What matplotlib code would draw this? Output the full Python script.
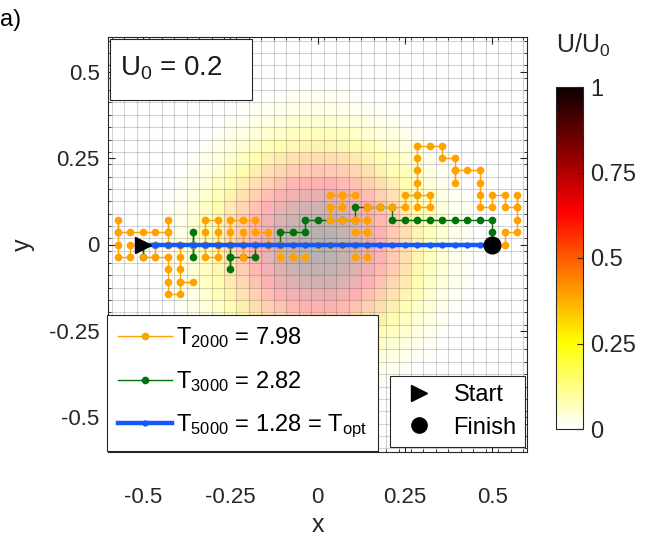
import numpy as np
import matplotlib
matplotlib.use('Agg')
import matplotlib.pyplot as plt
from matplotlib.lines import Line2D
from matplotlib.patches import Rectangle
from matplotlib.cm import ScalarMappable
from matplotlib.colors import Normalize

plt.rcParams['font.family'] = ['Liberation Sans', 'DejaVu Sans']
plt.rcParams['mathtext.fontset'] = 'custom'
plt.rcParams['mathtext.rm'] = 'Liberation Sans'
plt.rcParams['mathtext.it'] = 'Liberation Sans:italic'
plt.rcParams['axes.unicode_minus'] = False

# lattice: x = x_start + i*h, y = j*h
h = 1 / 28
x_start = -0.5
U0 = 0.2
bump_sigma = 0.2       # width of the potential bump (gaussian, peak at origin)
bump_cut = 0.46        # radius where the bump is brought down to zero
heat_alpha = 0.3

start_xy = (-0.5, 0.0)
finish_xy = (0.5, 0.0)

# sampled paths as lattice indices (i, j)
path_2000 = [(0, 0), (-1, 0), (-1, -1), (-2, -1), (-2, 0), (-2, 1), (-2, 2), (-2, 1), (-1, 1),
             (0, 1), (1, 1), (2, 1), (2, 2), (2, 1), (2, 0), (1, 0), (1, -1), (0, -1), (1, -1),
             (2, -1), (2, -2), (2, -3), (2, -4), (3, -4), (3, -3), (4, -3), (3, -3), (3, -2),
             (3, -1), (3, 0), (4, 0), (5, 0), (5, -1), (6, -1), (6, 0), (6, 1), (6, 2), (5, 2),
             (5, 1), (5, 0), (6, 0), (7, 0), (7, 1), (7, 2), (8, 2), (9, 2), (9, 1), (10, 1),
             (10, 0), (9, 0), (8, 0), (8, 1), (8, 0), (8, -1), (8, 0), (9, 0), (10, 0), (11, 0),
             (11, -1), (12, -1), (13, -1), (12, -1), (12, 0), (13, 0), (14, 0), (15, 0), (16, 0),
             (17, 0), (17, -1), (18, -1), (18, 0), (18, 1), (17, 1), (18, 1), (18, 2), (17, 2),
             (16, 2), (15, 2), (15, 3), (16, 3), (16, 4), (15, 4), (16, 4), (17, 4), (16, 4),
             (16, 3), (15, 3), (15, 2), (16, 2), (17, 2), (18, 2), (18, 3), (19, 3), (20, 3),
             (21, 3), (21, 4), (22, 4), (23, 4), (23, 3), (22, 3), (22, 4), (22, 5), (22, 6),
             (22, 7), (22, 8), (23, 8), (24, 8), (24, 7), (25, 7), (25, 6), (25, 5), (25, 6),
             (26, 6), (27, 6), (27, 5), (27, 4), (27, 3), (28, 3), (28, 4), (29, 4), (29, 3),
             (30, 3), (30, 4), (30, 3), (30, 2), (30, 1), (29, 1), (29, 0), (28, 0)]
path_3000 = [(0, 0), (0, -1), (0, 0), (1, 0), (2, 0), (3, 0), (4, 0), (4, 1), (4, 0), (4, -1),
             (4, 0), (5, 0), (6, 0), (7, 0), (7, -1), (7, -2), (7, -1), (8, -1), (9, -1), (9, 0),
             (10, 0), (11, 0), (11, 1), (12, 1), (13, 1), (13, 2), (14, 2), (16, 2), (17, 2),
             (17, 3), (18, 3), (19, 3), (20, 3), (20, 2), (21, 2), (22, 2), (23, 2), (24, 2),
             (25, 2), (26, 2), (27, 2), (28, 2), (28, 1), (28, 0)]
path_5000 = [(0, 0), (1, 0), (2, 0), (3, 0), (4, 0), (5, 0), (6, 0), (7, 0), (8, 0), (9, 0),
             (10, 0), (11, 0), (12, 0), (13, 0), (14, 0), (15, 0), (16, 0), (17, 0), (18, 0),
             (19, 0), (20, 0), (21, 0), (22, 0), (23, 0), (24, 0), (25, 0), (26, 0), (27, 0),
             (28, 0)]

labels = ['T$_{2000}$ = 7.98', 'T$_{3000}$ = 2.82', 'T$_{5000}$ = 1.28 = T$_{\\mathrm{opt}}$']
colors = ['#ffa200', '#00740a', '#1458ff']
widths = [1.0, 1.0, 3.2]

cbar_ticks = [0, 0.25, 0.5, 0.75, 1]
axis_ticks = [-0.5, -0.25, 0, 0.25, 0.5]
tick_text = ['-0.5', '-0.25', '0', '0.25', '0.5']


def to_xy(path):
    p = np.array(path, dtype=float)
    return x_start + p[:, 0] * h, p[:, 1] * h


fig = plt.figure(figsize=(6.48, 5.45), dpi=100)
ax = fig.add_axes([108 / 648, 1 - 452 / 545, 419 / 648, 415 / 545])

# potential on the lattice cells
kx = np.arange(-3, 32)
ky = np.arange(-17, 18)
xc = x_start + kx * h
yc = ky * h
XX, YY = np.meshgrid(xc, yc)
g = np.exp(-(XX ** 2 + YY ** 2) / (2 * bump_sigma ** 2))
g_cut = np.exp(-bump_cut ** 2 / (2 * bump_sigma ** 2))
U = np.clip((g - g_cut) / (1 - g_cut), 0, 1)
xb = np.append(xc - h / 2, xc[-1] + h / 2)
yb = np.append(yc - h / 2, yc[-1] + h / 2)
ax.pcolormesh(xb, yb, U, cmap='hot_r', vmin=0, vmax=1, alpha=heat_alpha, shading='flat',
              edgecolors='none', zorder=0)
ax.vlines(xb, -1, 1, colors='k', alpha=0.17, lw=0.8, zorder=1)
ax.hlines(yb, -1, 1, colors='k', alpha=0.17, lw=0.8, zorder=1)

handles = []
for path, lab, c, lw, z in zip([path_2000, path_3000, path_5000], labels, colors, widths,
                               [3, 2, 4]):
    px, py = to_xy(path)
    ms = 4.5 if lw < 2 else 3.5
    ln, = ax.plot(px, py, '-', color=c, lw=lw, marker='o', ms=ms, label=lab, zorder=z)
    handles.append(ln)

ax.plot(start_xy[0], start_xy[1], '>', color='k', ms=12, zorder=6)
ax.plot(finish_xy[0], finish_xy[1], 'o', color='k', ms=12, zorder=6)

ax.set_xlim(-0.6, 0.6)
ax.set_ylim(-0.6, 0.6)
ax.set_xticks(axis_ticks)
ax.set_yticks(axis_ticks)
ax.set_xticklabels(tick_text)
ax.set_yticklabels(tick_text)
ax.set_xticks(xb[(xb > -0.6) & (xb < 0.6)], minor=True)
ax.set_yticks(yb[(yb > -0.6) & (yb < 0.6)], minor=True)
ax.tick_params(which='both', direction='in', top=True, right=True, colors='#262626',
               labelsize=16, labelcolor='#262626')
ax.tick_params(which='major', length=5, width=0.8)
ax.tick_params(which='minor', length=2.5, width=0.6)
ax.tick_params(axis='x', which='major', pad=25)
ax.tick_params(axis='y', which='major', pad=6)
for s in ax.spines.values():
    s.set_color('#262626')
    s.set_linewidth(0.8)
ax.set_xlabel('x', fontsize=18, color='#262626', labelpad=4)
ax.set_ylabel('y', fontsize=18, color='#262626', labelpad=10)

leg1 = ax.legend(handles=handles, loc='lower left', bbox_to_anchor=(-0.002, 0.003),
                 fontsize=17, frameon=True, fancybox=False, edgecolor='#262626',
                 framealpha=1, handlelength=2.3, handletextpad=0.15, borderpad=0.45,
                 labelspacing=0.8, borderaxespad=0, numpoints=1)
leg1.get_frame().set_linewidth(0.8)
leg1.set_zorder(8)
ax.add_artist(leg1)

sf = [Line2D([], [], ls='none', marker='>', color='k', ms=12),
      Line2D([], [], ls='none', marker='o', color='k', ms=11)]
leg2 = ax.legend(handles=sf, labels=['Start', 'Finish'], loc='lower right',
                 bbox_to_anchor=(0.995, 0.012), fontsize=17, frameon=True, fancybox=False,
                 edgecolor='#262626', framealpha=1, handlelength=1.75, handletextpad=0.6,
                 borderpad=0.35, labelspacing=0.45, borderaxespad=0)
leg2.get_frame().set_linewidth(0.8)
leg2.set_zorder(8)

ax.add_patch(Rectangle((0.005, 0.848), 0.339, 0.148, transform=ax.transAxes, fc='white',
                       ec='#262626', lw=0.8, zorder=8))
ax.text(0.150, 0.925, 'U$_0$ = %.1f' % U0, transform=ax.transAxes, fontsize=20,
        ha='center', va='center', zorder=9, color='#1a1a1a')

cax = fig.add_axes([556 / 648, 1 - 429 / 545, 27 / 648, 342 / 545])
cb = fig.colorbar(ScalarMappable(norm=Normalize(0, 1), cmap='hot_r'), cax=cax, ticks=cbar_ticks)
cb.ax.set_yticklabels(['0', '0.25', '0.5', '0.75', '1'])
cb.ax.tick_params(direction='in', length=4, width=0.8, labelsize=17, colors='#262626', pad=5)
cb.outline.set_edgecolor('#262626')
cb.outline.set_linewidth(0.8)
fig.text(583 / 648, 1 - 45 / 545, 'U/U$_0$', fontsize=18, ha='center', va='center',
         color='#262626')

fig.text(0.0, 1 - 20 / 545, 'a)', fontsize=17, ha='left', va='center')

fig.savefig('out.png', dpi=100)
